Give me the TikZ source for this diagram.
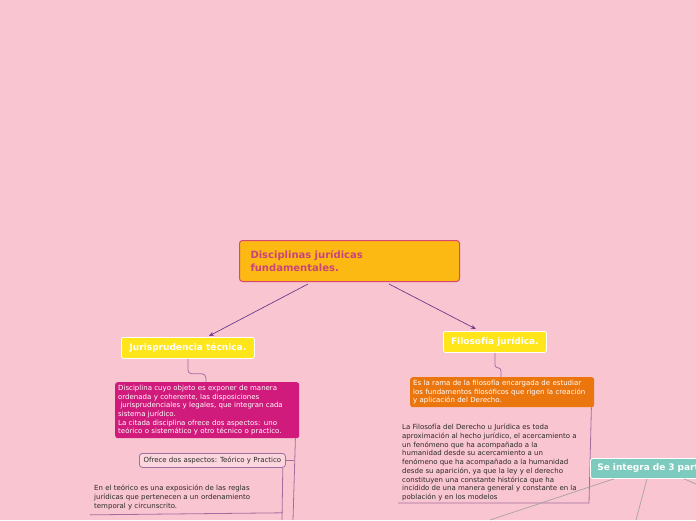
\documentclass[tikz,border=0pt]{standalone}
\usepackage{fontspec}
\setmainfont{DejaVu Sans}
\usetikzlibrary{arrows.meta,calc}
\definecolor{bgpink}{HTML}{F9C5D0}
\definecolor{rootfill}{HTML}{FDB913}
\definecolor{rootline}{HTML}{D9486E}
\definecolor{roottext}{HTML}{C9437C}
\definecolor{yel}{HTML}{FFE61A}
\definecolor{mag}{HTML}{D11B7C}
\definecolor{org}{HTML}{EC760E}
\definecolor{teal}{HTML}{7DCBBE}
\definecolor{arrcol}{HTML}{6E3A8C}
\definecolor{treecol}{HTML}{A26E9E}
\definecolor{greyline}{HTML}{A8A0A4}
\definecolor{darktext}{HTML}{2A2A2A}
\begin{document}
\begin{tikzpicture}[x=1pt,y=-1pt,
  rootbox/.style={draw=rootline,line width=1pt,fill=rootfill,rounded corners=3pt,anchor=north west,
    minimum width=220pt,minimum height=41pt,text width=198pt,inner xsep=11pt,align=left,
    text=roottext,font=\fontsize{10}{12.5}\selectfont\bfseries},
  yelbox/.style={draw=white,line width=0.8pt,fill=yel,rounded corners=2pt,anchor=north west,
    minimum height=21pt,text=white,font=\fontsize{9}{10}\selectfont\bfseries},
  smallfont/.style={font=\fontsize{7}{8.7}\selectfont},
  colbox/.style={smallfont,rounded corners=2.5pt,anchor=north west,text=white,align=left,
    inner xsep=3pt,inner ysep=2.5pt},
  plaintext/.style={smallfont,anchor=north west,text=darktext,align=left,inner sep=0pt},
  tree/.style={draw=treecol,line width=0.8pt},
  arr/.style={draw=arrcol,line width=0.7pt,-{Stealth[length=5pt,width=4pt]}},
  gline/.style={draw=greyline,line width=0.7pt}]
\fill[bgpink] (0,0) rectangle (696,520);
\useasboundingbox (0,0) rectangle (696,520);
\clip (0,0) rectangle (696,520);

% root
\node[rootbox] (root) at (239,240) {Disciplinas jurídicas\\fundamentales.};

% level 1
\node[yelbox,minimum width=133pt] (jur) at (121,337) {Jurisprudencia técnica.};
\node[yelbox,minimum width=103pt] (fil) at (443,331) {Filosofía jurídica.};

\draw[arr] ($(root.south west)+(69,2)$) -- ($(jur.north)+(21,-1)$);
\draw[arr] ($(root.south west)+(150,2)$) -- ($(fil.north)+(-19,-2)$);

% left branch
\node[colbox,fill=mag,minimum width=182pt,minimum height=56pt,text width=178pt] (magb) at (115,382)
 {Disciplina cuyo objeto es exponer de manera\\ordenada y coherente, las disposiciones\\ \ jurisprudenciales y legales, que integran cada\\sistema jurídico.\\La citada disciplina ofrece dos aspectos: uno\\teórico o sistemático y otro técnico o practico.};
\draw[tree,rounded corners=4pt] (jur.south) -- ($(jur.south)+(0,15)$) -| ($(magb.north west)+(91,0)$);

\node[smallfont,draw=treecol,line width=0.8pt,fill=bgpink!70!white,rounded corners=3pt,text=darktext,
  anchor=north west,minimum width=146pt,minimum height=14pt,inner sep=1pt] (ofr) at (139,453)
  {Ofrece dos aspectos: Teórico y Practico};
\coordinate (magend) at (293,520);
\draw[tree] ($(magb.south east)+(-4,0)$) -- (magend);
\draw[tree] (ofr.east) -- ($(ofr.east)+(8,0)$);

\node[plaintext] (teo) at (94,485)
 {En el teórico es una exposición de las reglas\\jurídicas que pertenecen a un ordenamiento\\temporal y circunscrito.};
\coordinate (ofrend) at (282,520);
\draw[tree] ($(ofr.south east)+(-3,0)$) -- (ofrend);
\draw[tree] ($(teo.south west)+(-4,5)$) -- ($(ofr.south east)+(-3,45)$);

% right branch
\node[colbox,fill=org,minimum width=182pt,minimum height=30pt,text width=178pt] (orgb) at (410,377)
 {Es la rama de la filosofía encargada de estudiar\\los fundamentos filosóficos que rigen la creación\\y aplicación del Derecho.};
\draw[tree,rounded corners=3pt] (fil.south) -- ($(fil.south)+(0,15)$) -| ($(orgb.north west)+(91,0)$);

\node[plaintext] (lafil) at (402,424)
 {La Filosofía del Derecho u Jurídica es toda\\aproximación al hecho jurídico, el acercamiento a\\un fenómeno que ha acompañado a la\\humanidad desde su acercamiento a un\\fenómeno que ha acompañado a la humanidad\\desde su aparición, ya que la ley y el derecho\\constituyen una constante histórica que ha\\incidido de una manera general y constante en la\\población y en los modelos};
\coordinate (corner) at (589,503);
\draw[tree] ($(orgb.south east)+(-3,0)$) -- (corner) -- (398,503);

\node[draw=white,line width=0.8pt,fill=teal,rounded corners=2.5pt,anchor=north west,minimum height=20pt,
  minimum width=130pt,text=white,font=\fontsize{9}{10}\selectfont\bfseries,inner xsep=7pt,align=left,
  text width=116pt] (teal) at (590,458) {Se integra de 3 partes};

\coordinate (g1) at (490,520);
\coordinate (g2) at (636,520);
\coordinate (g3) at (696,484);
\draw[gline] ($(teal.south west)+(24,0)$) -- (g1);
\draw[gline] ($(teal.south west)+(57,0)$) -- (g2);
\draw[gline] ($(teal.south west)+(94,0)$) -- (g3);
\end{tikzpicture}
\end{document}
